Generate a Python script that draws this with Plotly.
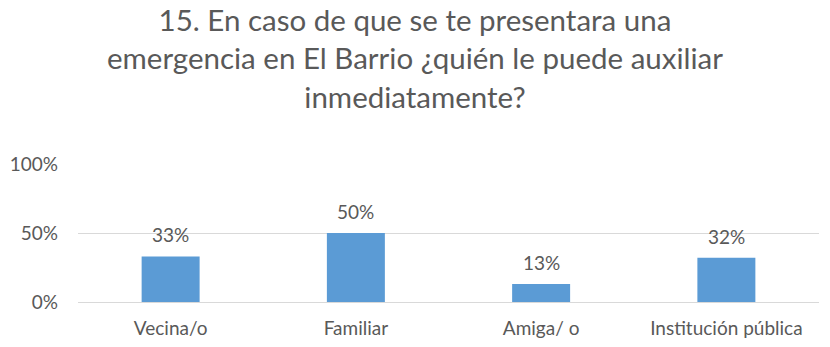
import plotly.graph_objects as go

categories = ["Vecina/o", "Familiar", "Amiga/ o", "Institución pública"]
shares = [0.33, 0.50, 0.13, 0.32]
y_ticks = [0, 0.5, 1.0]
y_tick_labels = ["0%", "50%", "100%"]

title_text = ("15. En caso de que se te presentara una<br>"
              "emergencia en El Barrio ¿quién le puede auxiliar<br>"
              "inmediatamente?")

FONT = "Lato"
GREY = "#595959"
BAR = "#5B9BD5"
H = 347

fig = go.Figure(
    go.Bar(
        x=categories,
        y=shares,
        marker=dict(color=BAR, line=dict(width=0)),
        hoverinfo="skip",
    )
)

# value labels above each bar
for c, v in zip(categories, shares):
    fig.add_annotation(
        x=c, y=v, text=f"{round(v * 100)}%",
        showarrow=False, yanchor="bottom", yshift=8,
        font=dict(family=FONT, size=19, color=GREY),
    )

fig.update_layout(
    width=830,
    height=H,
    margin=dict(l=78, r=11, t=164, b=45, autoexpand=False),
    paper_bgcolor="white",
    plot_bgcolor="white",
    bargap=0.687,
    showlegend=False,
    title=dict(
        text=title_text,
        x=0.5, xanchor="center",
        xref="container",
        y=1 - 31 / H, yanchor="middle",
        yref="container",
        font=dict(family=FONT, size=29.5, color=GREY),
    ),
    font=dict(family=FONT, size=19, color=GREY),
)

fig.update_xaxes(
    showgrid=False,
    showline=False,
    ticks="",
    automargin=False,
    tickfont=dict(family=FONT, size=19, color=GREY),
    ticklabelstandoff=13,
)
fig.update_yaxes(
    range=[0, 1],
    tickvals=y_ticks,
    ticktext=y_tick_labels,
    automargin=False,
    showgrid=True,
    gridcolor="#D9D9D9",
    gridwidth=1.3,
    zeroline=True,
    zerolinecolor="#D9D9D9",
    zerolinewidth=1.3,
    showline=False,
    ticks="",
    tickfont=dict(family=FONT, size=19, color=GREY),
    ticklabelstandoff=19,
)

fig.write_html("out.html")
